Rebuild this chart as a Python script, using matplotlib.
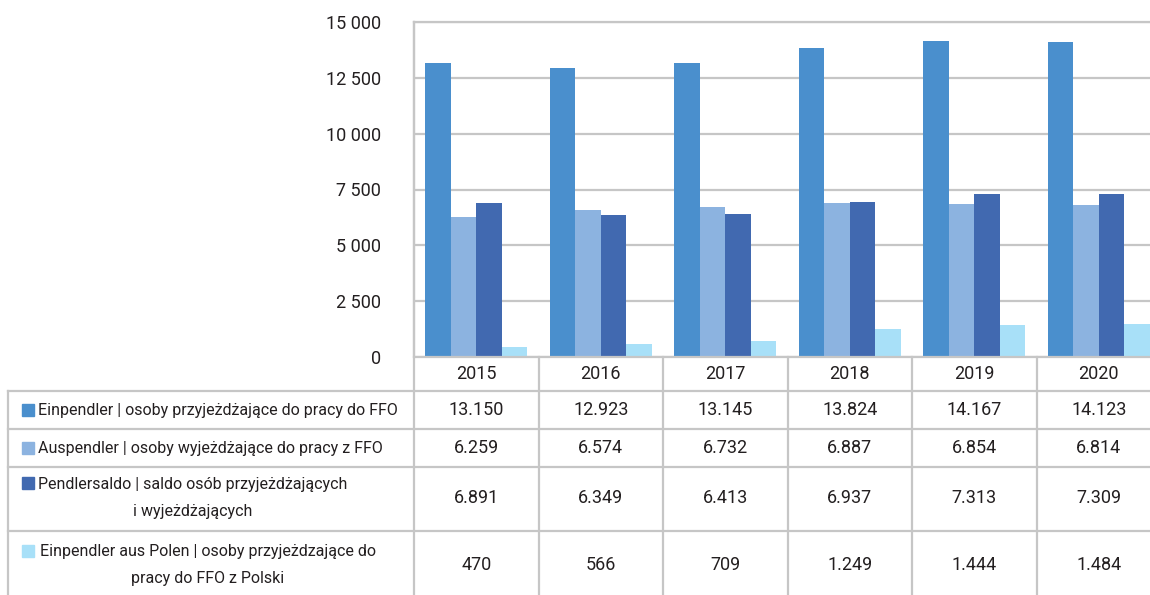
import numpy as np
import matplotlib
matplotlib.use("Agg")
import matplotlib.pyplot as plt
from matplotlib.patches import Rectangle

years = ["2015", "2016", "2017", "2018", "2019", "2020"]
einpendler = [13150, 12923, 13145, 13824, 14167, 14123]
auspendler = [6259, 6574, 6732, 6887, 6854, 6814]
saldo = [6891, 6349, 6413, 6937, 7313, 7309]
polen = [470, 566, 709, 1249, 1444, 1484]
labels = [
    "Einpendler | osoby przyjeżdżające do pracy do FFO",
    "Auspendler | osoby wyjeżdżające do pracy z FFO",
    "Pendlersaldo | saldo osób przyjeżdżających\ni wyjeżdżających",
    "Einpendler aus Polen | osoby przyjeżdzające do\npracy do FFO z Polski",
]
colors = ["#4a8fcd", "#8cb3e0", "#4169b0", "#a8e0f8"]
series = [einpendler, auspendler, saldo, polen]

plt.rcParams["font.family"] = ["Roboto", "DejaVu Sans"]
txt_col = "#231f20"
grid_col = "#c6c6c6"

W, H = 1150, 595
fig = plt.figure(figsize=(W / 100, H / 100), dpi=100)

# plot area in pixels
x0, x1 = 414, 414 + 6 * 124.5
ytop, ybot = 22, 357
ax = fig.add_axes([x0 / W, 1 - ybot / H, (x1 - x0) / W, (ybot - ytop) / H])
ax.set_xlim(-0.5, len(years) - 0.5)
ax.set_ylim(0, 15000)
w = 0.205
x = np.arange(len(years))
for k, (vals, c) in enumerate(zip(series, colors)):
    ax.bar(x + (k - 1.5) * w, vals, width=w, color=c, zorder=3)
ticks = np.arange(0, 15001, 2500)
ax.set_yticks(ticks)
ax.set_yticklabels([f"{v:,}".replace(",", " ") for v in ticks],
                   fontsize=13, color=txt_col)
ax.tick_params(axis="y", length=0, pad=24)
ax.set_xticks([])
ax.grid(axis="y", color=grid_col, linewidth=1.6, zorder=0)
for s in ["right", "bottom"]:
    ax.spines[s].set_visible(False)
for s in ["left", "top"]:
    ax.spines[s].set_color(grid_col)
    ax.spines[s].set_linewidth(1.6)

# table overlay in pixel coordinates
tb = fig.add_axes([0, 0, 1, 1], facecolor="none")
tb.set_xlim(0, W)
tb.set_ylim(H, 0)
tb.axis("off")
lw = 1.6
row_edges = [391, 429, 467, 531]
tb.plot([x0, W], [ybot, ybot], color=grid_col, lw=lw)
for ye in row_edges:
    tb.plot([8, W], [ye, ye], color=grid_col, lw=lw)
tb.plot([8, 8], [391, H], color=grid_col, lw=lw)
for i in range(len(years) + 1):
    xv = x0 + i * 124.5
    tb.plot([xv, xv], [ybot if i else ytop, H], color=grid_col, lw=lw)

row_y = [410, 448, 498, 565]
lab_x = [38, 38, 38, 40]
lab_w = [362, 346, 314, 342]
mark_y = [410, 448, 483, 551]
renderer = fig.canvas.get_renderer()
for r, (lab, c) in enumerate(zip(labels, colors)):
    tb.add_patch(Rectangle((22, mark_y[r] - 6), 12, 12, color=c))
    t = tb.text(lab_x[r], row_y[r], lab, ha="left", va="center", multialignment="center",
                fontsize=12, color=txt_col, linespacing=2.0)
    # shrink to the width the label has in the reference
    while t.get_window_extent(renderer).width > lab_w[r] and t.get_fontsize() > 8:
        t.set_fontsize(t.get_fontsize() - 0.25)
    for i, v in enumerate(series[r]):
        tb.text(x0 + (i + 0.5) * 124.5, row_y[r], f"{v:,}".replace(",", "."),
                ha="center", va="center", fontsize=13, color=txt_col)
for i, yr in enumerate(years):
    tb.text(x0 + (i + 0.5) * 124.5, 374, yr, ha="center", va="center",
            fontsize=13, color=txt_col)

fig.savefig("out.png", dpi=100)
